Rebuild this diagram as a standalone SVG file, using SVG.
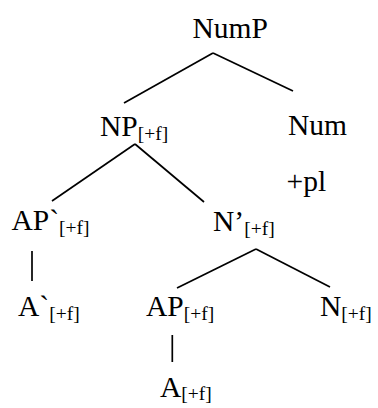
<svg xmlns="http://www.w3.org/2000/svg" width="378" height="408" viewBox="0 0 378 408">
<style>
.t{font-family:"Liberation Serif","Times New Roman",serif;font-size:29.5px;fill:#000}
.s{font-size:19.5px}
.e{stroke:#000;stroke-width:1.7;fill:none}
</style>
<rect width="378" height="408" fill="#fff"/>
<g id="edges">
<line class="e" x1="213" y1="53" x2="124" y2="103"/>
<line class="e" x1="213" y1="53" x2="293" y2="91"/>
<line class="e" x1="135" y1="144" x2="52" y2="201"/>
<line class="e" x1="135" y1="144" x2="204" y2="202"/>
<line class="e" x1="32" y1="251" x2="32" y2="281"/>
<line class="e" x1="256" y1="249" x2="177" y2="288"/>
<line class="e" x1="256" y1="249" x2="330" y2="287"/>
<line class="e" x1="172.3" y1="335" x2="172.3" y2="362"/>
</g>
<g id="NumP"><text class="t" x="192.5" y="37.5">NumP</text></g>
<g id="NP"><text class="t" x="100" y="136">NP<tspan class="s" dy="3.5">[+f]</tspan></text></g>
<g id="Num"><text class="t" x="288" y="135">Num</text></g>
<g id="pl"><text class="t" x="286.5" y="191">+pl</text></g>
<g id="APp"><text class="t" x="11.5" y="230">AP`<tspan class="s" dy="3.5">[+f]</tspan></text></g>
<g id="Np"><text class="t" x="213" y="231">N’<tspan class="s" dy="3.5">[+f]</tspan></text></g>
<g id="Ap"><text class="t" x="18" y="316">A`<tspan class="s" dy="3.5">[+f]</tspan></text></g>
<g id="AP"><text class="t" x="146" y="316">AP<tspan class="s" dy="3.5">[+f]</tspan></text></g>
<g id="N"><text class="t" x="320" y="316">N<tspan class="s" dy="3.5">[+f]</tspan></text></g>
<g id="A"><text class="t" x="160" y="396.5">A<tspan class="s" dy="3.5">[+f]</tspan></text></g>
</svg>
